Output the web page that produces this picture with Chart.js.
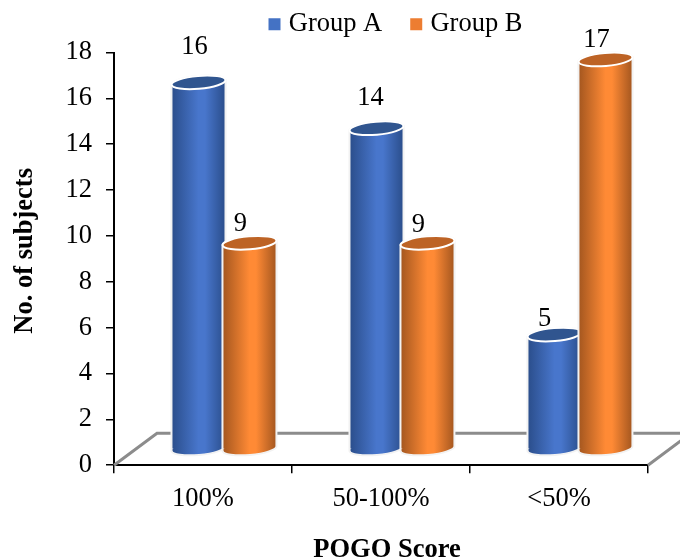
<!DOCTYPE html>
<html>
<head>
<meta charset="utf-8">
<style>
  html, body { margin: 0; padding: 0; background: #fff; }
  #wrap { width: 680px; height: 560px; }
</style>
<script src="https://cdn.jsdelivr.net/npm/chart.js@4"></script>
</head>
<body>
<div id="wrap"><canvas id="scoreChart" width="680" height="560"></canvas></div>
<script>
const categories = ['100%', '50-100%', '<50%'];
const groupA = [16, 14, 5];
const groupB = [9, 9, 17];
const yTicks = [0, 2, 4, 6, 8, 10, 12, 14, 16, 18];

const serif = '"Liberation Serif", "Times New Roman", serif';
const fontSize = 26.5;

// cylinders sit on a floor that is pushed back from the axes
const depthX = 21;
const depthY = 16;
const capRy = 6.5;
const tilt = -5 * Math.PI / 180;

const shades = [
    { edge: '#2a4d8a', mid: '#4876cc', cap: '#30558f' },
    { edge: '#a3561f', mid: '#ff8a35', cap: '#bd6325' }
];

// hand placed value labels, dx and rise from the top of each cylinder
const labelNudge = [
    [[-4, 35], [-6, 30], [-10, 16]],
    [[-9, 19], [-9, 18], [-9, 19]]
];

function bodyGradient(ctx, left, right, shade) {
    const g = ctx.createLinearGradient(left, 0, right, 0);
    g.addColorStop(0, shade.edge);
    g.addColorStop(0.5, shade.mid);
    g.addColorStop(0.62, shade.mid);
    g.addColorStop(1, shade.edge);
    return g;
}

function cylinderPath(ctx, bar) {
    const rx = bar.width / 2;
    const dy = Math.sin(tilt) * rx;
    ctx.moveTo(bar.x - rx, bar.y - dy);
    ctx.lineTo(bar.x - rx, bar.base - dy);
    ctx.ellipse(bar.x, bar.base, rx, capRy, tilt, Math.PI, 0, true);
    ctx.lineTo(bar.x + rx, bar.y + dy);
    ctx.ellipse(bar.x, bar.y, rx, capRy, tilt, 0, Math.PI, true);
    ctx.closePath();
}

function drawFloor(chart) {
    const { ctx, scales: { x, y } } = chart;
    const y0 = y.getPixelForValue(0);
    ctx.save();
    ctx.strokeStyle = '#8c8c8c';
    ctx.lineWidth = 3;
    ctx.beginPath();
    ctx.moveTo(x.left, y0);
    ctx.lineTo(x.left + 43, y0 - 32);
    ctx.lineTo(x.right + 43, y0 - 32);
    ctx.lineTo(x.right, y0);
    ctx.stroke();
    ctx.restore();
}

function drawValueLabels(chart) {
    const ctx = chart.ctx;
    ctx.save();
    ctx.font = fontSize + 'px ' + serif;
    ctx.fillStyle = '#000';
    ctx.textAlign = 'center';
    ctx.textBaseline = 'middle';
    chart.data.datasets.forEach((ds, i) => {
        chart.getDatasetMeta(i).data.forEach((bar, j) => {
            const [dx, rise] = labelNudge[i][j];
            ctx.fillText(ds.data[j], bar.x + depthX + dx, bar.y - depthY - rise);
        });
    });
    ctx.restore();
}

const cylinderPlugin = {
    id: 'cylinders',
    // Group B has to overlap Group A, so draw the datasets first to last
    beforeDatasetsDraw(chart) {
        drawFloor(chart);
        chart.getSortedVisibleDatasetMetas().forEach(meta => chart._drawDataset(meta));
        drawValueLabels(chart);
        return false;
    },
    beforeDatasetDraw(chart, args) {
        const ctx = chart.ctx;
        const shade = shades[args.index];
        ctx.save();
        ctx.translate(depthX, -depthY);
        // the library fills each body; round it off with a clip
        args.meta.data.forEach(bar => {
            const fill = bodyGradient(ctx, bar.x - bar.width / 2, bar.x + bar.width / 2, shade);
            bar.options = Object.assign({}, bar.options, { backgroundColor: fill });
            ctx.fillStyle = fill;
            ctx.beginPath();
            ctx.ellipse(bar.x, bar.base, bar.width / 2, capRy, tilt, 0, Math.PI * 2);
            ctx.fill();
        });
        ctx.beginPath();
        args.meta.data.forEach(bar => cylinderPath(ctx, bar));
        ctx.save();
        ctx.clip();
    },
    afterDatasetDraw(chart, args) {
        const ctx = chart.ctx;
        const shade = shades[args.index];
        ctx.restore();
        args.meta.data.forEach(bar => {
            ctx.lineWidth = 2;
            ctx.strokeStyle = '#f2f2f2';
            ctx.beginPath();
            cylinderPath(ctx, bar);
            ctx.stroke();
            ctx.beginPath();
            ctx.ellipse(bar.x, bar.y, bar.width / 2, capRy, tilt, 0, Math.PI * 2);
            ctx.fillStyle = shade.cap;
            ctx.fill();
            ctx.strokeStyle = '#ffffff';
            ctx.stroke();
        });
        ctx.restore();
    }
};

// legend and titles are not centred on the canvas or the axis, shift them
const boxShiftPlugin = {
    id: 'boxShift',
    afterLayout(chart) {
        chart.legend.left = 148;
        chart.legend.top = -22;
        chart.titleBlock.left = 126;
        chart.titleBlock.top += 6;
        chart.titleBlock.bottom += 6;
        const y = chart.scales.y;
        if (!y.shiftedTitle) {
            const drawTitle = y.drawTitle;
            y.drawTitle = function () {
                chart.ctx.save();
                chart.ctx.translate(-3, -8);
                drawTitle.call(this);
                chart.ctx.restore();
            };
            y.shiftedTitle = true;
        }
    }
};

new Chart(document.getElementById('scoreChart'), {
    type: 'bar',
    data: {
        labels: categories,
        datasets: [
            { label: 'Group A', data: groupA, backgroundColor: '#4472C4', borderWidth: 0, clip: false },
            { label: 'Group B', data: groupB, backgroundColor: '#ED7D31', borderWidth: 0, clip: false }
        ]
    },
    plugins: [cylinderPlugin, boxShiftPlugin],
    options: {
        responsive: false,
        animation: false,
        categoryPercentage: 0.573,
        barPercentage: 1.06,
        layout: { padding: { left: 12, right: 32, top: -17, bottom: 0 } },
        plugins: {
            tooltip: { enabled: false },
            legend: {
                position: 'top',
                labels: {
                    boxWidth: 2,
                    boxHeight: 2,
                    padding: 33,
                    color: '#000',
                    font: { family: serif, size: fontSize },
                    // thick stroke on a tiny box keeps the swatch close to its text
                    generateLabels(chart) {
                        return Chart.defaults.plugins.legend.labels.generateLabels(chart).map(item =>
                            Object.assign(item, { lineWidth: 10, strokeStyle: item.fillStyle }));
                    }
                }
            },
            title: {
                display: true,
                position: 'bottom',
                text: 'POGO Score',
                color: '#000',
                padding: 0,
                font: { family: serif, size: fontSize, weight: 'bold' }
            }
        },
        scales: {
            x: {
                afterFit(scale) { scale.height = 63; },
                border: { color: '#000', width: 2 },
                grid: { drawOnChartArea: false, tickLength: 8, color: '#000', lineWidth: 1.5 },
                ticks: { color: '#000', padding: 10, maxRotation: 0, font: { family: serif, size: fontSize } }
            },
            y: {
                min: 0,
                max: 18,
                afterFit(scale) { scale.width = 102; },
                afterBuildTicks(scale) { scale.ticks = yTicks.map(value => ({ value })); },
                border: { color: '#000', width: 2 },
                grid: { drawOnChartArea: false, tickLength: 8, color: '#000', lineWidth: 1.5 },
                ticks: { color: '#000', padding: 14, font: { family: serif, size: fontSize } },
                title: {
                    display: true,
                    text: 'No. of subjects',
                    color: '#000',
                    padding: 0,
                    font: { family: serif, size: fontSize, weight: 'bold' }
                }
            }
        }
    }
});
</script>
</body>
</html>
